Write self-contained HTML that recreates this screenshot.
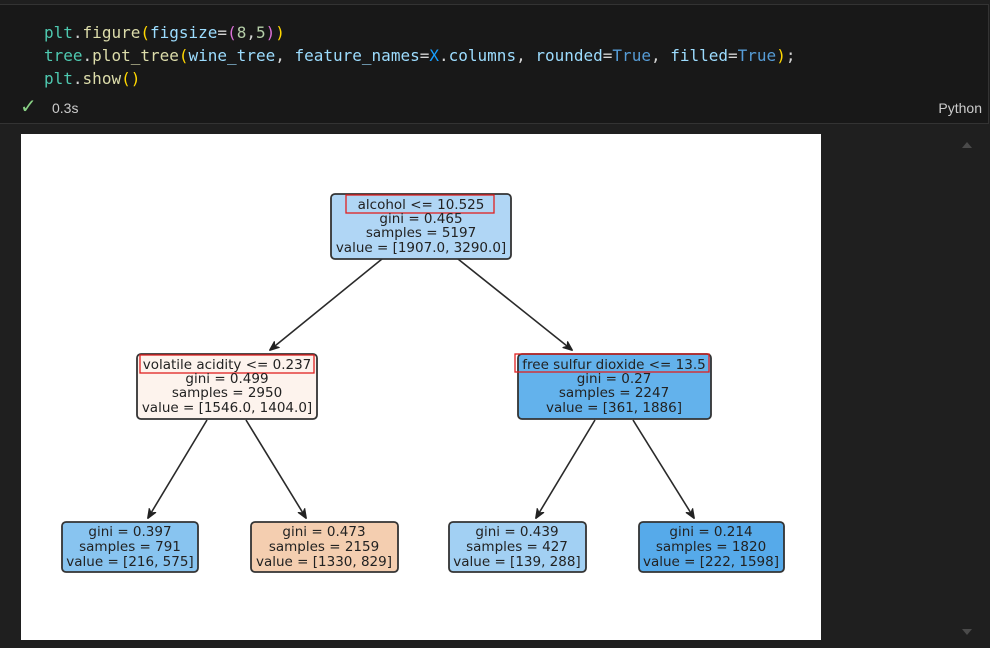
<!DOCTYPE html>
<html><head><meta charset="utf-8"><style>
body{margin:0;width:990px;height:648px;background:#1f1f1f;overflow:hidden;position:relative;font-family:"Liberation Sans",sans-serif}
.cell{position:absolute;left:0;top:4px;width:988px;height:118px;background:#181818;border-top:1px solid #333;border-bottom:1px solid #333;border-right:1px solid #333}
.code{position:absolute;left:44px;top:16px;font-family:"DejaVu Sans Mono","Liberation Mono",monospace;font-size:16px;line-height:23px;color:#d4d4d4;white-space:pre}
.f{color:#4ec9b0}.y{color:#ffd700}.p{color:#da70d6}.b{color:#9cdcfe}.n{color:#b5cea8}.c{color:#569cd6}.k{color:#179fff}
</style></head><body>
<div class="cell">
<div class="code"><span class="f">plt</span>.<span style="color:#dcdcaa">figure</span><span class="y">(</span><span class="b">figsize</span>=<span class="p">(</span><span class="n">8</span>,<span class="n">5</span><span class="p">)</span><span class="y">)</span>
<span class="f">tree</span>.<span style="color:#dcdcaa">plot_tree</span><span class="y">(</span><span class="b">wine_tree</span>, <span class="b">feature_names</span>=<span class="k">X</span>.<span class="b">columns</span>, <span class="b">rounded</span>=<span class="c">True</span>, <span class="b">filled</span>=<span class="c">True</span><span class="y">)</span>;
<span class="f">plt</span>.<span style="color:#dcdcaa">show</span><span class="y">()</span></div>
<div style="position:absolute;left:20px;top:89px;color:#89d185;font-size:20px">✓</div>
<div style="position:absolute;left:52px;top:95px;color:#ccc;font-size:14px">0.3s</div>
<div style="position:absolute;right:6px;top:95px;color:#ccc;font-size:14px">Python</div>
</div>
<div style="position:absolute;left:962px;top:142px;width:0;height:0;border-left:5px solid transparent;border-right:5px solid transparent;border-bottom:6px solid #4a4a4a"></div>
<div style="position:absolute;left:962px;top:629px;width:0;height:0;border-left:5px solid transparent;border-right:5px solid transparent;border-top:6px solid #4a4a4a"></div>
<svg style="position:absolute;left:21px;top:134px" width="800" height="506" viewBox="21 134 800 506">
<defs><marker id="a" markerWidth="10" markerHeight="10" refX="9" refY="5" orient="auto" markerUnits="userSpaceOnUse"><path d="M0,1 L10,5 L0,9 L3,5 Z" fill="#222" stroke="#222" stroke-width="1"/></marker></defs>
<rect x="21" y="134" width="800" height="506" fill="#fff"/>
<g stroke="#2a2a2a" stroke-width="1.6" marker-end="url(#a)">
<line x1="382" y1="259" x2="270" y2="350"/><line x1="458" y1="259" x2="572" y2="350"/>
<line x1="207" y1="420" x2="148" y2="518"/><line x1="246" y1="420" x2="306" y2="518"/>
<line x1="595" y1="420" x2="536" y2="518"/><line x1="633" y1="420" x2="694" y2="518"/>
</g>
<g stroke="#333" stroke-width="1.8">
<rect x="331" y="194" width="180" height="65" rx="4" fill="#b0d6f5"/>
<rect x="137" y="354" width="180" height="65" rx="4" fill="#fdf3ed"/>
<rect x="518" y="354" width="193" height="65" rx="4" fill="#63b2ec"/>
<rect x="62" y="522" width="136" height="50" rx="4" fill="#88c4f0"/>
<rect x="251" y="522" width="147" height="50" rx="4" fill="#f4ceb0"/>
<rect x="449" y="522" width="137" height="50" rx="4" fill="#a2d0f3"/>
<rect x="639" y="522" width="145" height="50" rx="4" fill="#56aaea"/>
</g>
<g fill="none" stroke="#e02020" stroke-width="1.3">
<rect x="346" y="195" width="148" height="18"/>
<rect x="140" y="355" width="174" height="18"/>
<rect x="515" y="354" width="194" height="18"/>
</g>
<g font-family="DejaVu Sans,sans-serif" font-size="13.5" fill="#222" text-anchor="middle">
<text x="421" y="209">alcohol &lt;= 10.525</text><text x="421" y="223">gini = 0.465</text><text x="421" y="237">samples = 5197</text><text x="421" y="252">value = [1907.0, 3290.0]</text>
<text x="227" y="369">volatile acidity &lt;= 0.237</text><text x="227" y="383">gini = 0.499</text><text x="227" y="397">samples = 2950</text><text x="227" y="412">value = [1546.0, 1404.0]</text>
<text x="614" y="369">free sulfur dioxide &lt;= 13.5</text><text x="614" y="383">gini = 0.27</text><text x="614" y="397">samples = 2247</text><text x="614" y="412">value = [361, 1886]</text>
<text x="130" y="536">gini = 0.397</text><text x="130" y="551">samples = 791</text><text x="130" y="566">value = [216, 575]</text>
<text x="324" y="536">gini = 0.473</text><text x="324" y="551">samples = 2159</text><text x="324" y="566">value = [1330, 829]</text>
<text x="517" y="536">gini = 0.439</text><text x="517" y="551">samples = 427</text><text x="517" y="566">value = [139, 288]</text>
<text x="711" y="536">gini = 0.214</text><text x="711" y="551">samples = 1820</text><text x="711" y="566">value = [222, 1598]</text>
</g>
</svg>
</body></html>
